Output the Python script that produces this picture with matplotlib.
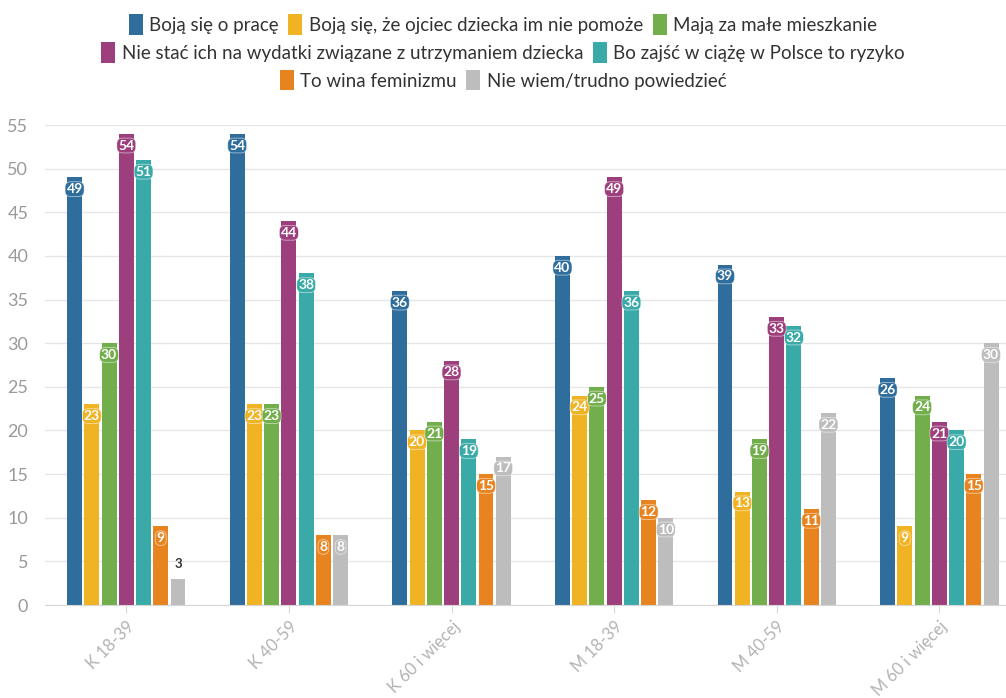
import numpy as np
import matplotlib
matplotlib.use("Agg")
import matplotlib.pyplot as plt
from matplotlib.patches import Patch

plt.rcParams["font.family"] = ["Lato", "DejaVu Sans"]

GROUPS = ["K 18-39", "K 40-59", "K 60 i więcej", "M 18-39", "M 40-59", "M 60 i więcej"]

SERIES = [
    "Boją się o pracę",
    "Boją się, że ojciec dziecka im nie pomoże",
    "Mają za małe mieszkanie",
    "Nie stać ich na wydatki związane z utrzymaniem dziecka",
    "Bo zajść w ciążę w Polsce to ryzyko",
    "To wina feminizmu",
    "Nie wiem/trudno powiedzieć",
]

praca = [49, 54, 36, 40, 39, 26]
ojciec = [23, 23, 20, 24, 13, 9]
mieszkanie = [30, 23, 21, 25, 19, 24]
wydatki = [54, 44, 28, 49, 33, 21]
ryzyko = [51, 38, 19, 36, 32, 20]
feminizm = [9, 8, 15, 12, 11, 15]
nie_wiem = [3, 8, 17, 10, 22, 30]

VALUES = [praca, ojciec, mieszkanie, wydatki, ryzyko, feminizm, nie_wiem]
COLORS = ["#2f6e9c", "#f0b323", "#72ae4b", "#9d3f7c", "#3aaaa8", "#e8841f", "#bdbdbd"]

fig = plt.figure(figsize=(10.06, 6.98), dpi=100)
ax = fig.add_axes([45 / 1006, 1 - 605 / 698, 1 - 45 / 1006, 480 / 698])

x = np.arange(len(GROUPS))
pitch = 0.106
width = 0.092
for i, (vals, col) in enumerate(zip(VALUES, COLORS)):
    pos = x + (i - 3) * pitch
    ax.bar(pos, vals, width=width, color=col, zorder=2)
    for px, v in zip(pos, vals):
        if v < 5:
            ax.text(px, v + 1.0, f"{v}", ha="center", va="bottom", fontsize=9.5,
                    fontweight="bold", color="#333333", zorder=4)
        else:
            ax.text(px, v - 1.35, f"{v}", ha="center", va="center", fontsize=10,
                    fontweight="bold", color="white", zorder=4,
                    bbox=dict(boxstyle="round,pad=0.1,rounding_size=0.4",
                              fc=col, ec=(1, 1, 1, 0.55), lw=0.6))

ax.set_xlim(-0.5, 5.41)
ax.set_ylim(0, 55)
ax.set_yticks(range(0, 56, 5))
ax.grid(axis="y", color="#e6e6e6", lw=1.0, zorder=0)
ax.set_axisbelow(True)
for s in ["top", "right", "left"]:
    ax.spines[s].set_visible(False)
ax.spines["bottom"].set_color("#d6d6d6")
ax.tick_params(axis="y", length=0, pad=12, labelsize=13, labelcolor="#9a9a9a")
ax.tick_params(axis="x", length=6, color="#d6d6d6", labelsize=12, labelcolor="#b3b3b3")
ax.set_xticks(x)
ax.set_xticklabels(GROUPS, rotation=45, ha="right", rotation_mode="anchor")

# centred legend rows: 3, 2, 2 entries
rows = [[0, 1, 2], [3, 4], [5, 6]]
row_y = [0.965, 0.925, 0.885]
for idx, yy in zip(rows, row_y):
    handles = [Patch(facecolor=COLORS[k], edgecolor="none") for k in idx]
    leg = fig.legend(handles, [SERIES[k] for k in idx], loc="center",
                     bbox_to_anchor=(0.5, yy), ncol=len(idx), frameon=False,
                     fontsize=13.5, handlelength=0.75, handleheight=1.3,
                     handletextpad=0.35, columnspacing=0.5, borderpad=0)
    for t in leg.get_texts():
        t.set_color("#333333")

fig.savefig("out.png", dpi=100)
